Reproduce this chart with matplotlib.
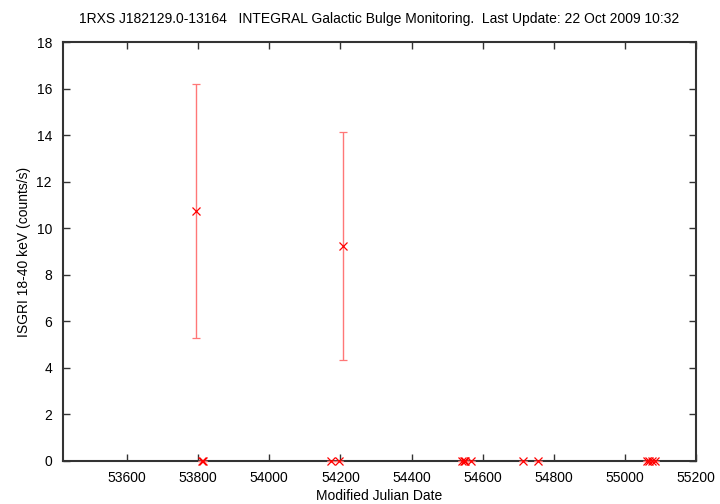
import matplotlib
matplotlib.use('Agg')
import matplotlib.pyplot as plt
from matplotlib.ticker import MultipleLocator

plt.rcParams['font.family'] = ['Liberation Sans', 'DejaVu Sans']

# light curve points (MJD, rate, error)
mjd = [53794, 53810, 53813, 54174, 54197, 54208,
       54543, 54547, 54551, 54567, 54714, 54756,
       55061, 55068, 55075, 55085]
rate = [10.75, 0.0, 0.0, 0.0, 0.0, 9.25,
        0.0, 0.0, 0.0, 0.0, 0.0, 0.0,
        0.0, 0.0, 0.0, 0.0]
err = [5.45, 0.0, 0.0, 0.0, 0.0, 4.9,
       0.0, 0.0, 0.0, 0.0, 0.0, 0.0,
       0.0, 0.0, 0.0, 0.0]

title = '1RXS J182129.0-13164   INTEGRAL Galactic Bulge Monitoring.  Last Update: 22 Oct 2009 10:32'

fig = plt.figure(figsize=(7.2, 5.04), dpi=100)
ax = fig.add_axes([63 / 720, 43 / 504, 633 / 720, 419 / 504])

ax.errorbar(mjd, rate, yerr=err, fmt='x', color='#ff0000', ecolor='#ff7777',
            elinewidth=1.0, capsize=3, capthick=1.0, markersize=5.5, markeredgewidth=0.9,
            clip_on=False, zorder=3)

ax.set_xlim(53420, 55200)
ax.set_ylim(0, 18)
ax.xaxis.set_major_locator(MultipleLocator(200))
ax.yaxis.set_major_locator(MultipleLocator(2))
ax.tick_params(direction='in', length=5, width=1, top=True, right=True,
               labelsize=10, colors='#333333', labelcolor='black')
ax.tick_params(axis='y', pad=8)
ax.tick_params(axis='x', pad=7)
for sp in ax.spines.values():
    sp.set_linewidth(1.5)
    sp.set_color('#333333')

ax.set_xlabel('Modified Julian Date', fontsize=10, labelpad=3)
ax.set_ylabel('ISGRI 18-40 keV (counts/s)', fontsize=10, labelpad=4)
ax.set_title(title, fontsize=10, pad=14)

fig.savefig('out.png', dpi=100)
